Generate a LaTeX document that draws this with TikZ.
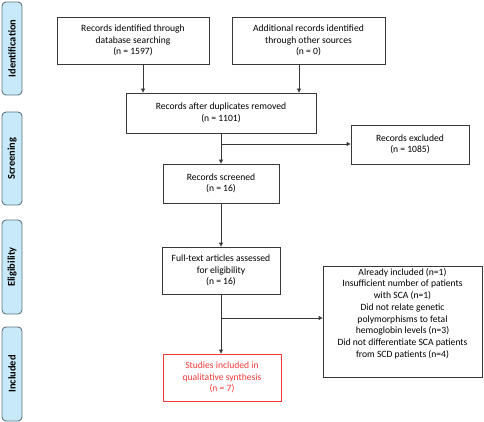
\documentclass[tikz,border=0pt]{standalone}
\usepackage{fontspec}
\setmainfont{Carlito}
\usetikzlibrary{arrows.meta,calc}
\definecolor{sidefill}{HTML}{C8E9FA}
\definecolor{sidedraw}{HTML}{5F7480}
\definecolor{boxdraw}{HTML}{383838}
\definecolor{redc}{HTML}{F53A3A}
\tikzset{
  sidebox/.style={draw=sidedraw, fill=sidefill, rounded corners=4pt, line width=0.9pt,
    minimum width=20pt, inner sep=0pt},
  sidetext/.style={rotate=90, font=\fontsize{10.4}{12}\selectfont\bfseries},
  flowbox/.style={draw=boxdraw, line width=0.85pt, inner sep=0pt, align=center,
    font=\fontsize{9.6}{11.6}\selectfont},
  arr/.style={draw=boxdraw, line width=0.85pt, -{Triangle[length=4pt,width=4pt]}}
}
\begin{document}
\begin{tikzpicture}[x=1pt,y=-1pt]
\useasboundingbox (0,0) rectangle (484,422);
% side labels
\node[sidebox, minimum height=93pt] (s1) at (12,48.5) {};
\node[sidetext] (t1) at (s1.center) {Identification};
\node[sidebox, minimum height=93pt] (s2) at (12,158.5) {};
\node[sidetext] (t2) at (s2.center) {Screening};
\node[sidebox, minimum height=94pt] (s3) at (12,267) {};
\node[sidetext] (t3) at (s3.center) {Eligibility};
\node[sidebox, minimum height=94pt] (s4) at (12,374) {};
\node[sidetext] (t4) at (s4.center) {Included};
% boxes
\node[flowbox, minimum width=152pt, minimum height=47pt] (b1) at (133,40.5)
  {Records identified through\\database searching\\(n = 1597)};
\node[flowbox, minimum width=153pt, minimum height=47pt] (b2) at (308.5,40.5)
  {Additional records identified\\through other sources\\(n = 0)};
\node[flowbox, minimum width=190pt, minimum height=40pt] (b3) at (221,113)
  {Records after duplicates removed\\(n = 1101)};
\node[flowbox, minimum width=118pt, minimum height=39pt] (e1) at (410,144.5)
  {Records excluded\\(n = 1085)};
\node[flowbox, minimum width=116pt, minimum height=39pt] (b4) at (221,183.5)
  {Records screened\\(n = 16)};
\node[flowbox, minimum width=118pt, minimum height=47pt] (b5) at (221,270.5)
  {Full-text articles assessed\\for eligibility\\(n = 16)};
\node[flowbox, minimum width=159pt, minimum height=111pt] (e2) at (402.5,321.5) {};
\node[align=center, font=\fontsize{9.6}{11.7}\selectfont, inner sep=0pt] (e2t) at (402.5,313.5)
  {Already included (n=1)\\Insufficient number of patients\\with SCA (n=1)\\Did not relate genetic\\polymorphisms to fetal\\hemoglobin levels (n=3)\\Did not differentiate SCA patients\\from SCD patients (n=4)};
\node[flowbox, draw=redc, text=redc, minimum width=118pt, minimum height=47pt] (b6) at (222,377.5)
  {Studies included in\\qualitative synthesis\\(n = 7)};
% connectors
\draw[arr] ([xshift=10pt]b1.south) -- ([xshift=10pt]b1.south |- b3.north);
\draw[arr] ([xshift=-9.5pt]b2.south) -- ([xshift=-9.5pt]b2.south |- b3.north);
\coordinate (j1) at (221,144);
\draw[arr] (b3.south -| b4.north) -- (b4.north);
\draw[arr] (j1) -- (j1 -| e1.west);
\draw[arr] (b4.south) -- (b4.south |- b5.north);
\coordinate (j2) at (221,318);
\draw[arr] (b5.south) -- (b5.south |- b6.north);
\draw[arr] (j2) -- (j2 -| e2.west);
\end{tikzpicture}
\end{document}
